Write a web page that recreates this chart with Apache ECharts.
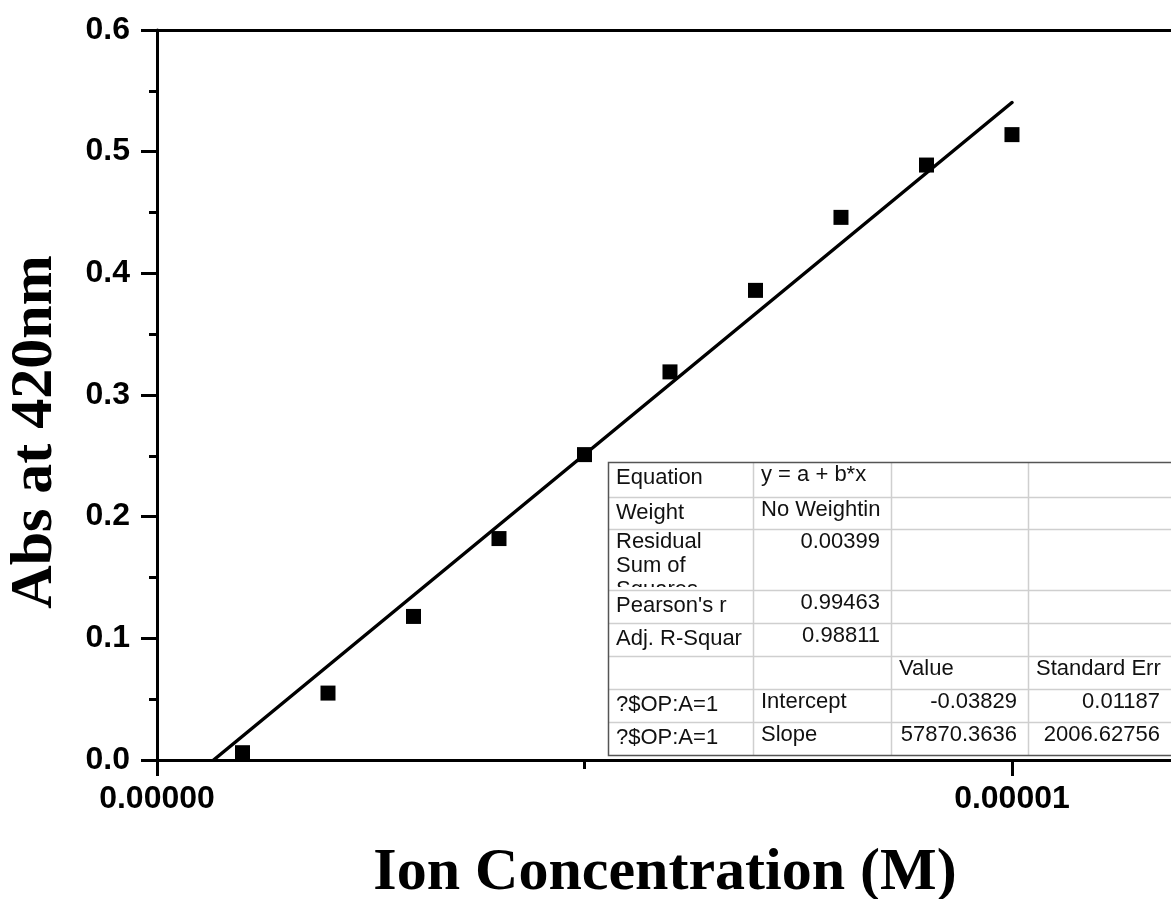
<!DOCTYPE html>
<html><head><meta charset="utf-8">
<script src="https://cdn.jsdelivr.net/npm/echarts@6/dist/echarts.min.js"></script>
<style>html,body{margin:0;padding:0;background:#fff}#c{width:1171px;height:899px}</style>
</head><body><div id="c"></div>
<script>
// ---- data ----
const concentration = [1e-6, 2e-6, 3e-6, 4e-6, 5e-6, 6e-6, 7e-6, 8e-6, 9e-6, 1e-5];
const absorbance    = [0.006, 0.055, 0.118, 0.182, 0.251, 0.319, 0.386, 0.446, 0.489, 0.514];
const fitX = [6.62e-7, 1e-5];
const fitY = [0, 0.5404];
const xTickValues = [0, 1e-5];
const xTickLabels = ['0.00000', '0.00001'];
const xMinorTickValues = [5e-6];
const yTickLabels = ['0.0', '0.1', '0.2', '0.3', '0.4', '0.5', '0.6'];
const xTitle = 'Ion Concentration (M)';
const yTitle = 'Abs at 420nm';
const tableRows = [
  ['Equation', 'y = a + b*x', '', ''],
  ['Weight', 'No Weightin', '', ''],
  ['Residual\nSum of\nSquares', '0.00399', '', ''],
  ["Pearson's r", '0.99463', '', ''],
  ['Adj. R-Squar', '0.98811', '', ''],
  ['', '', 'Value', 'Standard Err'],
  ['?$OP:A=1', 'Intercept', '-0.03829', '0.01187'],
  ['?$OP:A=1', 'Slope', '57870.3636', '2006.62756']
];

// ---- layout ----
const rowEdges = [462, 497, 529, 590, 623, 656, 689, 722, 755];
const colEdges = [608, 753, 891, 1028, 1171];
const tableRightDraw = 1200;
const tFont = 'Liberation Sans';
const tSize = 22;

const gfx = [];
gfx.push({type: 'rect', shape: {x: colEdges[0], y: rowEdges[0], width: tableRightDraw - colEdges[0], height: rowEdges[8] - rowEdges[0]}, style: {fill: '#fff'}, z: 10});
const isNum = s => /^-?[0-9.]+$/.test(s);
tableRows.forEach((row, r) => {
  row.forEach((txt, c) => {
    if (!txt) return;
    const top = rowEdges[r];
    const num = isNum(txt);
    const x = num ? colEdges[c + 1] - 11 : colEdges[c] + 8;
    if (txt.indexOf('\n') >= 0) {
      gfx.push({type: 'text', z: 11, x: x, y: top + 0.5, style: {text: txt, fontFamily: tFont, fontSize: tSize, fill: '#111', align: 'left', verticalAlign: 'top', lineHeight: 24}});
      gfx.push({type: 'rect', z: 12, shape: {x: colEdges[c] + 1, y: rowEdges[r + 1] - 3, width: colEdges[c + 1] - colEdges[c] - 2, height: rowEdges[r + 2] - rowEdges[r + 1] + 2}, style: {fill: '#fff'}});
    } else {
      const cy = top + (c === 0 ? 15.8 : 13.3);
      gfx.push({type: 'text', z: 13, x: x, y: cy, style: {text: txt, fontFamily: tFont, fontSize: tSize, fill: '#111', align: num ? 'right' : 'left', verticalAlign: 'middle'}});
    }
  });
});
// inner lines
rowEdges.slice(1, -1).forEach(y => gfx.push({type: 'line', z: 14, shape: {x1: colEdges[0], y1: y + 0.5, x2: tableRightDraw, y2: y + 0.5}, style: {stroke: '#cfcfcf', lineWidth: 1.5}}));
colEdges.slice(1, -1).forEach(x => gfx.push({type: 'line', z: 14, shape: {x1: x + 0.5, y1: rowEdges[0], x2: x + 0.5, y2: rowEdges[8]}, style: {stroke: '#cfcfcf', lineWidth: 1.5}}));
// outer border
gfx.push({type: 'rect', z: 15, shape: {x: colEdges[0] + 0.5, y: rowEdges[0] + 0.5, width: tableRightDraw - colEdges[0], height: rowEdges[8] - rowEdges[0]}, style: {fill: 'none', stroke: '#555', lineWidth: 1.5}});
// axis titles
gfx.push({type: 'text', z: 20, x: 35, y: 432, rotation: Math.PI / 2, style: {text: yTitle, fontFamily: 'Liberation Serif', fontWeight: 'bold', fontSize: 60, fill: '#000', align: 'center', verticalAlign: 'middle'}});
gfx.push({type: 'text', z: 20, x: 665, y: 873, style: {text: xTitle, fontFamily: 'Liberation Serif', fontWeight: 'bold', fontSize: 60, fill: '#000', align: 'center', verticalAlign: 'middle'}});

const xMax = 1.186e-5;
const axisLineStyle = {color: '#000', width: 3};
const option = {
  animation: false,
  backgroundColor: '#fff',
  grid: {left: 157, top: 30, right: 0, bottom: 139, containLabel: false},
  xAxis: [
    {
      type: 'value', min: 0, max: xMax, interval: 1e-5, position: 'bottom',
      axisLine: {show: true, onZero: false, lineStyle: axisLineStyle},
      axisTick: {show: true, inside: false, length: 16, lineStyle: {color: '#000', width: 3}, customValues: xTickValues},
      axisLabel: {show: true, margin: 23, customValues: xTickValues,
        formatter: v => { const i = xTickValues.findIndex(t => Math.abs(t - v) < 1e-12); return i >= 0 ? xTickLabels[i] : ''; },
        fontFamily: 'Liberation Sans', fontWeight: 'bold', fontSize: 32, lineHeight: 32, color: '#000'},
      splitLine: {show: false}, minorTick: {show: false}
    },
    {
      type: 'value', min: 0, max: xMax, position: 'bottom',
      axisLine: {show: false},
      axisTick: {show: true, inside: false, length: 9, lineStyle: {color: '#000', width: 3}, customValues: xMinorTickValues},
      axisLabel: {show: false}, splitLine: {show: false}
    },
    {
      type: 'value', min: 0, max: xMax, position: 'top',
      axisLine: {show: true, onZero: false, lineStyle: axisLineStyle},
      axisTick: {show: false}, axisLabel: {show: false}, splitLine: {show: false}
    }
  ],
  yAxis: {
    type: 'value', min: 0, max: 0.6, interval: 0.1,
    axisLine: {show: true, onZero: false, lineStyle: axisLineStyle},
    axisTick: {show: true, inside: false, length: 16, lineStyle: {color: '#000', width: 3}},
    minorTick: {show: true, splitNumber: 2, length: 8, lineStyle: {color: '#000', width: 3}},
    axisLabel: {margin: 27, formatter: v => yTickLabels[Math.round(v * 10)],
      fontFamily: 'Liberation Sans', fontWeight: 'bold', fontSize: 32, color: '#000'},
    splitLine: {show: false}
  },
  series: [
    {
      type: 'line', xAxisIndex: 0,
      data: fitX.map((x, i) => [x, fitY[i]]),
      showSymbol: false, symbol: 'none',
      lineStyle: {color: '#000', width: 3.5, cap: 'round'},
      z: 3
    },
    {
      type: 'scatter', xAxisIndex: 0,
      data: concentration.map((x, i) => [x, absorbance[i]]),
      symbol: 'rect', symbolSize: 15,
      itemStyle: {color: '#000', opacity: 1},
      z: 4
    }
  ],
  graphic: gfx
};
const chart = echarts.init(document.getElementById('c'), null, {renderer: 'canvas'});
chart.setOption(option);
</script>
</body></html>
